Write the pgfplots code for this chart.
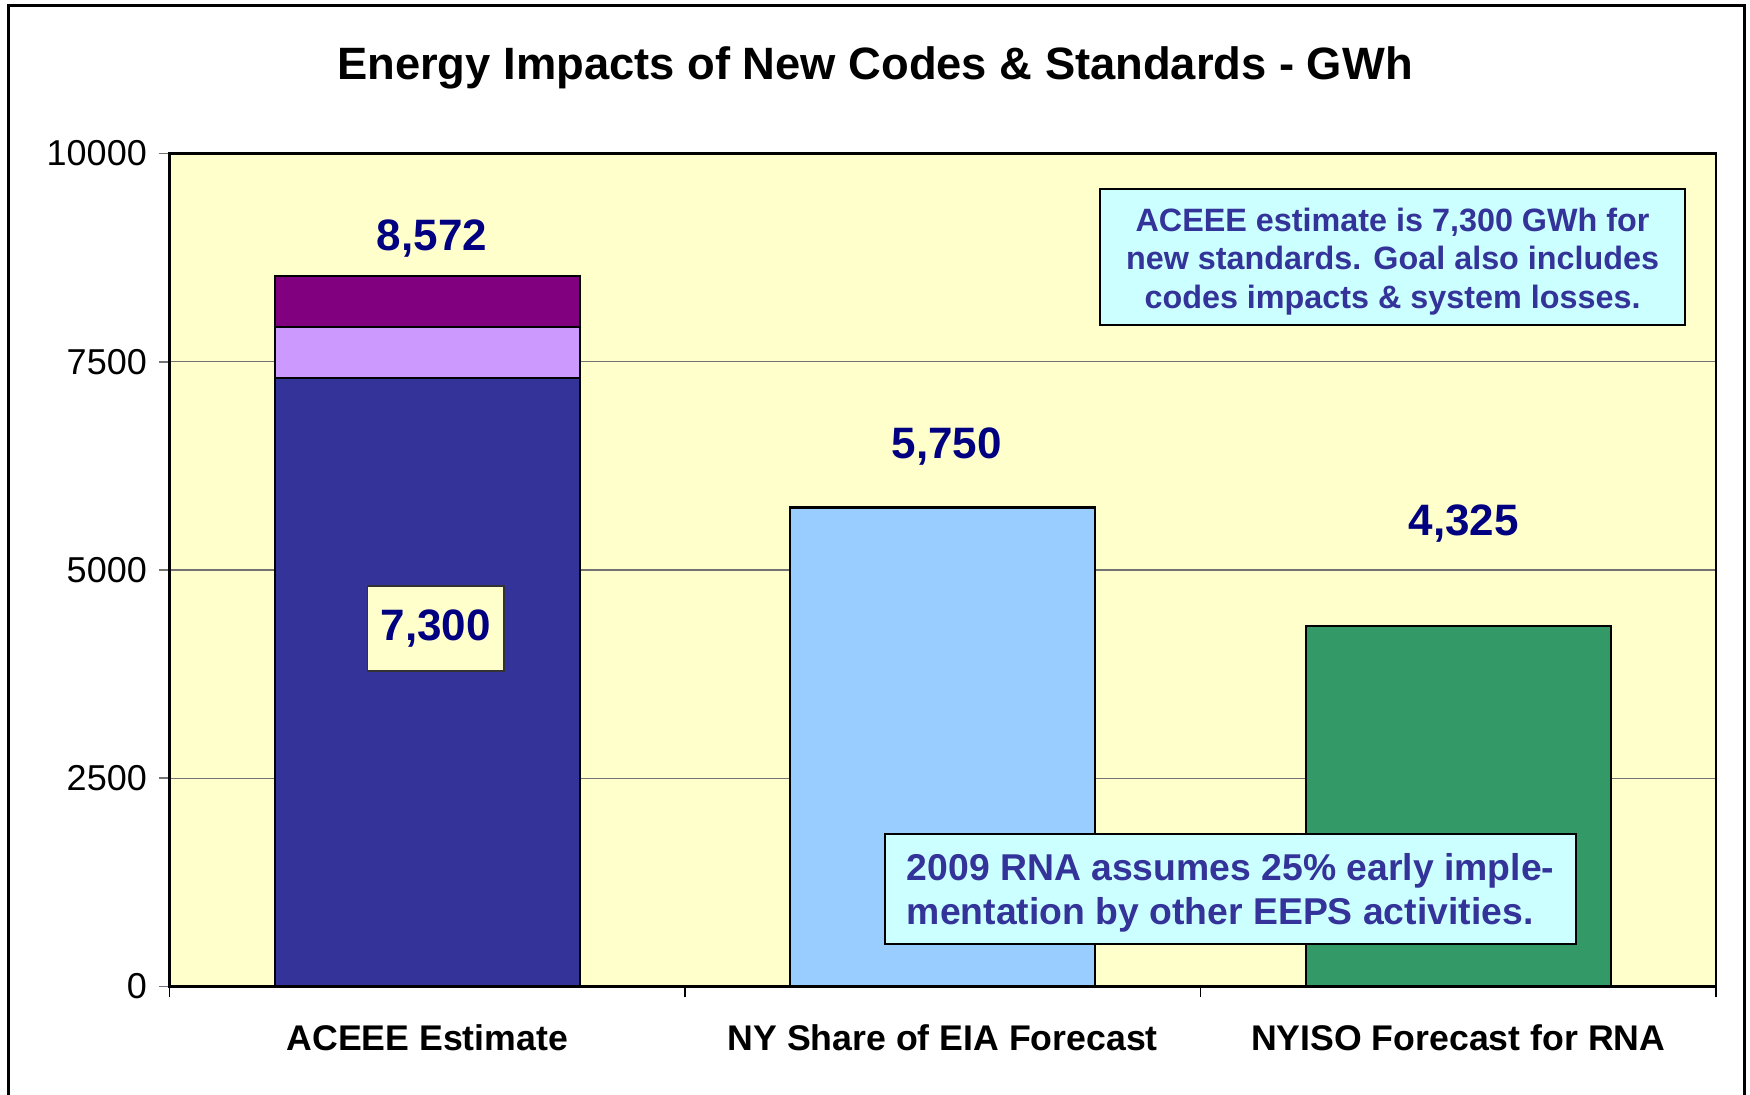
\documentclass[border=0pt]{standalone}
\usepackage{fontspec}
\setmainfont{Liberation Sans}
\usepackage{pgfplots}
\pgfplotsset{compat=1.18}
\definecolor{bg}{HTML}{FFFFCC}
\definecolor{cNavy}{HTML}{333399}
\definecolor{cLilac}{HTML}{CC99FF}
\definecolor{cPlum}{HTML}{800080}
\definecolor{cSky}{HTML}{99CCFF}
\definecolor{cSea}{HTML}{339966}
\definecolor{cLabel}{HTML}{000080}
\definecolor{cBox}{HTML}{CCFFFF}
\definecolor{cNote}{HTML}{333399}
\begin{document}
\begin{tikzpicture}[x=1pt,y=1pt]
\useasboundingbox (0,0) rectangle (525,328.5);
\draw[line width=0.9pt] (2.4,-3) -- (2.4,326.7) -- (523.2,326.7) -- (523.2,-3);
\node[font=\bfseries\fontsize{13.6}{16}\selectfont] at (262.5,308) {Energy Impacts of New Codes \& Standards - GWh};
\begin{axis}[
  at={(50.88pt,32.55pt)}, anchor=south west,
  width=463.9pt, height=249.9pt, scale only axis,
  xmin=-0.5, xmax=2.5, ymin=0, ymax=10000,
  axis background/.style={fill=bg},
  axis line style={line width=0.8pt},
  ybar, bar width=0.592, bar shift=0pt,
  ytick={0,2500,5000,7500,10000},
  scaled y ticks=false,
  ymajorgrids, grid style={black!55, line width=0.35pt},
  tick align=outside, major tick length=3.3pt,
  tick pos=left,
  ytick style={black!55, line width=0.5pt},
  xtick style={black, line width=0.4pt},
  xtick={-0.5,0.5,1.5,2.5}, xticklabels={},
  extra x ticks={0,1,2},
  extra x tick labels={ACEEE Estimate, NY Share of EIA Forecast, NYISO Forecast for RNA},
  extra x tick style={major tick length=0pt, grid=none},
  xticklabel style={font=\bfseries\fontsize{10.7}{12}\selectfont, yshift=-8pt},
  yticklabel style={font=\fontsize{10.8}{13}\selectfont},
  /pgf/number format/assume math mode=true,
  /pgf/number format/1000 sep={},
  clip=false,
]
\addplot[fill=cPlum, draw=black, line width=0.65pt] coordinates {(0,8530)};
\addplot[fill=cLilac, draw=black, line width=0.65pt] coordinates {(0,7915)};
\addplot[fill=cNavy, draw=black, line width=0.65pt] coordinates {(0,7300)};
\addplot[fill=cSky, draw=black, line width=0.65pt] coordinates {(1,5750)};
\addplot[fill=cSea, draw=black, line width=0.65pt] coordinates {(2,4325)};
\node[text=cLabel, font=\bfseries\fontsize{13.2}{16}\selectfont] at (axis cs:0.009,8984) {8,572};
\node[text=cLabel, font=\bfseries\fontsize{13.2}{16}\selectfont] at (axis cs:1.0076,6476) {5,750};
\node[text=cLabel, font=\bfseries\fontsize{13.2}{16}\selectfont] at (axis cs:2.0105,5557) {4,325};
\node[draw=black!80, fill=bg, line width=0.45pt, minimum width=41pt, minimum height=25.5pt, inner sep=0pt, text=cLabel, font=\bfseries\fontsize{13.2}{16}\selectfont] at (axis cs:0.0165,4299) {7,300};
\node[draw=black, fill=cBox, line width=0.5pt, minimum width=175.5pt, minimum height=40.8pt, inner sep=0pt] at (axis cs:1.8727,8756) {};
\node[inner sep=0pt, align=center, text=cNote, font=\bfseries\fontsize{9.7}{11.6}\selectfont, yshift=-1.3pt] at (axis cs:1.8727,8756) {ACEEE estimate is 7,300 GWh for\\new standards. Goal also includes\\codes impacts \& system losses.};
\node[draw=black, fill=cBox, line width=0.6pt, minimum width=207.4pt, minimum height=33.2pt, inner sep=0pt] at (axis cs:1.5584,1170) {};
\node[inner sep=0pt, align=left, text=cNote, font=\bfseries\fontsize{11.2}{13.2}\selectfont, yshift=-1.2pt] at (axis cs:1.5584,1170) {2009 RNA assumes 25\% early imple-\\mentation by other EEPS activities.};
\end{axis}
\end{tikzpicture}
\end{document}
